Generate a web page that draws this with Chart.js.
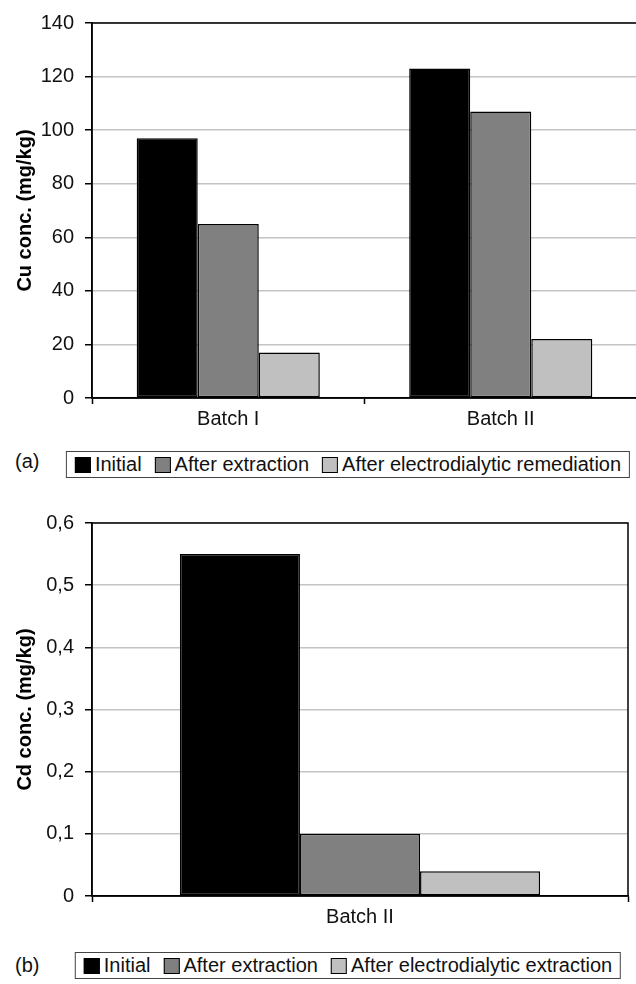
<!DOCTYPE html>
<html>
<head>
<meta charset="utf-8">
<script src="https://cdn.jsdelivr.net/npm/chart.js@4"></script>
<style>
  body { margin: 0; background: #fff; font-family: "Liberation Sans", Arial, sans-serif; }
  #page { position: relative; width: 636px; height: 984px; overflow: hidden; }
  .box { position: absolute; left: 0; }
  .legend {
    position: absolute; left: 348px; transform: translateX(-50%);
    display: flex; align-items: center; white-space: nowrap;
    border: 1px solid #444; height: 25px; padding: 0 8px;
    font-size: 20px; color: #111;
  }
  .legend .item { display: flex; align-items: center; margin-right: 13px; }
  .legend .item:last-child { margin-right: 0; }
  .legend .sq { width: 16px; height: 16px; border: 1.5px solid #000; margin-right: 4px; box-sizing: border-box; }
  .tag { position: absolute; left: 15px; font-size: 20px; color: #111; }
</style>
</head>
<body>
<div id="page">
  <div class="box" style="top:0; width:640px; height:440px;"><canvas id="chartCu" width="640" height="440"></canvas></div>
  <div class="tag" style="top:450px;">(a)</div>
  <div class="legend" id="legendCu" style="top:451px;"></div>

  <div class="box" style="top:500px; width:636px; height:440px;"><canvas id="chartCd" width="636" height="440"></canvas></div>
  <div class="tag" style="top:954px;">(b)</div>
  <div class="legend" id="legendCd" style="top:952px;"></div>
</div>
<script>
// datos
const cuBatches = ['Batch I', 'Batch II'];
const cuInitial = [97, 123];
const cuExtraction = [65, 107];
const cuRemediation = [17, 22];
const cuTicks = [0, 20, 40, 60, 80, 100, 120, 140];
const cuLabels = ['Initial', 'After extraction', 'After electrodialytic remediation'];

const cdBatches = ['Batch II'];
const cdInitial = [0.55];
const cdExtraction = [0.1];
const cdElectro = [0.04];
const cdTicks = [0, 0.1, 0.2, 0.3, 0.4, 0.5, 0.6];
const cdTickLabels = ['0', '0,1', '0,2', '0,3', '0,4', '0,5', '0,6'];
const cdLabels = ['Initial', 'After extraction', 'After electrodialytic extraction'];

const colores = ['#000000', '#808080', '#c0c0c0'];
const fuente = "'Liberation Sans', Arial, sans-serif";

// marco negro alrededor del area del grafico
const marco = {
  id: 'marco',
  afterDraw(chart) {
    const { ctx, chartArea } = chart;
    ctx.save();
    ctx.strokeStyle = '#000';
    ctx.lineWidth = 1.5;
    ctx.strokeRect(chartArea.left, chartArea.top, chartArea.right - chartArea.left, chartArea.bottom - chartArea.top);
    ctx.restore();
  }
};

function dataset(label, data, i) {
  return {
    label, data,
    backgroundColor: colores[i],
    borderColor: '#000',
    borderWidth: 1.5,
    borderSkipped: false,
    categoryPercentage: 0.672,
    barPercentage: 1
  };
}

function opciones(ticks, tickLabels, max, titulo, padding) {
  return {
    responsive: false,
    animation: false,
    layout: { padding },
    plugins: { legend: { display: false }, tooltip: { enabled: false } },
    scales: {
      x: {
        afterFit: s => { s.height = 35; },
        grid: { offset: true, drawOnChartArea: false, tickLength: 6, tickColor: '#000', tickWidth: 1.5 },
        border: { color: '#000', width: 1.5 },
        ticks: { color: '#111', padding: 3, font: { family: fuente, size: 20 } }
      },
      y: {
        min: 0, max,
        afterFit: s => { s.width = 92; },
        afterBuildTicks: s => { s.ticks = ticks.map(v => ({ value: v })); },
        grid: { color: '#c4c4c4', lineWidth: 1.5, tickLength: 7, tickColor: '#000', tickWidth: 1.5 },
        border: { color: '#000', width: 1.5 },
        ticks: {
          color: '#111', padding: 11, font: { family: fuente, size: 20 },
          callback: (v, i) => tickLabels[i]
        },
        title: {
          display: true, text: titulo, color: '#000',
          padding: { top: 13, bottom: 0 },
          font: { family: fuente, size: 20, weight: 'bold' }
        }
      }
    }
  };
}

new Chart(document.getElementById('chartCu'), {
  type: 'bar',
  data: {
    labels: cuBatches,
    datasets: [
      dataset(cuLabels[0], cuInitial, 0),
      dataset(cuLabels[1], cuExtraction, 1),
      dataset(cuLabels[2], cuRemediation, 2)
    ]
  },
  options: opciones(cuTicks, cuTicks.map(String), 140, 'Cu conc. (mg/kg)', { top: 21, right: 3, bottom: 7, left: 0 }),
  plugins: [marco]
});

new Chart(document.getElementById('chartCd'), {
  type: 'bar',
  data: {
    labels: cdBatches,
    datasets: [
      dataset(cdLabels[0], cdInitial, 0),
      dataset(cdLabels[1], cdExtraction, 1),
      dataset(cdLabels[2], cdElectro, 2)
    ]
  },
  options: opciones(cdTicks, cdTickLabels, 0.6, 'Cd conc. (mg/kg)', { top: 19, right: 8, bottom: 9, left: 0 }),
  plugins: [marco]
});

// leyendas
function leyenda(id, etiquetas) {
  const cont = document.getElementById(id);
  etiquetas.forEach((txt, i) => {
    cont.innerHTML += `<span class="item"><span class="sq" style="background:${colores[i]}"></span>${txt}</span>`;
  });
}
leyenda('legendCu', cuLabels);
leyenda('legendCd', cdLabels);
</script>
</body>
</html>
